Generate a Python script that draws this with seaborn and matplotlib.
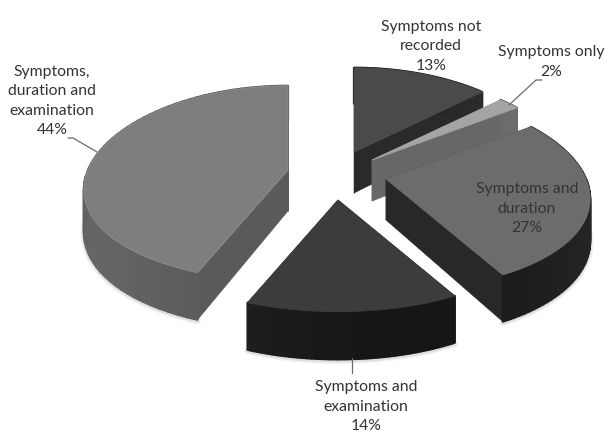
import numpy as np
import seaborn as sns
import matplotlib
matplotlib.use("Agg")
import matplotlib.pyplot as plt

# Share of records by what was documented, clockwise from twelve o'clock
categories = ["Symptoms not\nrecorded", "Symptoms only", "Symptoms and\nduration",
              "Symptoms and\nexamination", "Symptoms,\nduration and\nexamination"]
shares = [13, 2, 27, 14, 44]

# Exploded apex of each slice, in figure pixels
apex_x = [354, 372, 386, 338, 288]
apex_y = [152, 160, 179, 200, 170]

top_gray = ["#4a4a4a", "#a4a4a4", "#6c6c6c", "#3c3c3c", "#7e7e7e"]
side_gray = [0.15, 0.40, 0.15, 0.13, 0.37]
radial_gray = ["#2a2a2a", "#676767", "#282828", "#222222", "#5a5a5a"]

label_x = [431, 551, 527, 366, 52]
label_y = [46, 62, 209, 407, 101]
text_gray = "#333333"

# Leader lines as (x values, y values)
leader_lines = [
    ([542, 536, 509], [80, 80, 105]),
    ([352, 352], [358, 373]),
    ([68, 73, 97], [138, 138, 152]),
]

# Projection of the tilted disc
RX, RY = 200, 96
KX, KY = 0.20, 0.14
DEPTH = 41
DRAW_ORDER = [0, 1, 4, 2, 3]

sns.set_theme(style="white")
plt.rcParams["font.family"] = ["Lato", "DejaVu Sans"]

fig = plt.figure(figsize=(6.08, 4.32), dpi=100)
ax = fig.add_axes([0, 0, 1, 1])
ax.set_xlim(0, 608)
ax.set_ylim(432, 0)
ax.axis("off")


def project(theta, cx, cy, drop=0.0):
    """Map rim angles (degrees) to the screen, with the near side enlarged."""
    u, v = np.cos(np.radians(theta)), np.sin(np.radians(theta))
    x = cx + RX * u / (1 + KX * v)
    y = cy - RY * v / (1 + KY * v) + drop / (1 + KY * v)
    return x, y


# Turn the shares into start/end angles, running clockwise from the top
ends = 90 - 3.6 * np.cumsum(shares)
starts = np.r_[90, ends[:-1]]

for i in DRAW_ORDER:
    cx, cy = apex_x[i], apex_y[i]
    th = np.linspace(starts[i], ends[i], 60)
    layer = 2 + DRAW_ORDER.index(i)

    # Soft shadow under the lower rim
    sx, sy = project(th, cx, cy, DEPTH + 1)
    front = np.sin(np.radians(th)) < 0.15
    for width, alpha in ((5, 0.10), (3, 0.18)):
        ax.plot(sx[front], sy[front], color="#888888", lw=width, alpha=alpha, zorder=1,
                solid_capstyle="round")

    # Radial cut faces
    for t in (starts[i], ends[i]):
        ex, ey = project(np.array([t]), cx, cy)
        bx, by = project(np.array([t]), cx, cy, DEPTH)
        ax.fill([cx, ex[0], bx[0], cx], [cy, ey[0], by[0], cy + DEPTH],
                color=radial_gray[i], lw=0.4, zorder=layer)

    # Outer wall, shaded strip by strip; each strip overlaps the last so no seams show
    for a, b in zip(th[:-1], th[1:]):
        pair = np.array([a, b])
        ux, uy = project(pair, cx, cy)
        lx, ly = project(pair, cx, cy, DEPTH)
        mid = np.radians((a + b) / 2)
        shade = side_gray[i] + 0.045 * np.sin(2 * mid + np.radians(60)) - 0.03 * np.abs(np.cos(mid)) ** 6
        ax.fill([ux[0], ux[1], lx[1], lx[0]], [uy[0], uy[1], ly[1], ly[0]],
                color=str(float(np.clip(shade, 0, 1))), lw=1.6, zorder=layer,
                joinstyle="round")

    # Top face
    rx, ry = project(th, cx, cy)
    ax.fill(np.r_[cx, rx], np.r_[cy, ry], facecolor=top_gray[i],
            edgecolor="#8e8e8e" if i == 4 else top_gray[i], lw=0.6, zorder=layer)

# Leader lines and labels
for xs, ys in leader_lines:
    ax.plot(xs, ys, color="#6a6a6a", lw=0.9, zorder=20)

for name, share, x, y in zip(categories, shares, label_x, label_y):
    ax.text(x, y, f"{name}\n{share}%", ha="center", va="center", fontsize=11.3,
            color=text_gray, linespacing=1.5, zorder=21)

fig.savefig("out.png", dpi=100, facecolor="white")
